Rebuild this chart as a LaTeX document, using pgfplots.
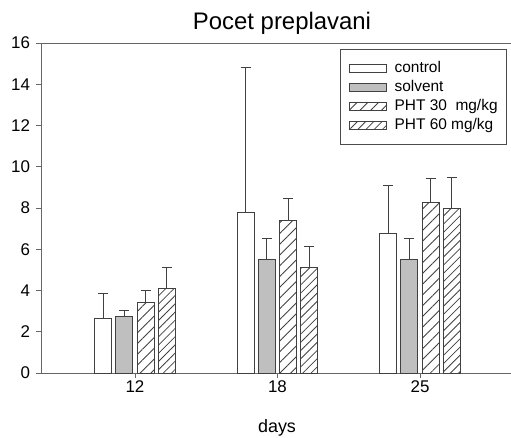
\documentclass[border=0pt]{standalone}
\usepackage{fontspec}
\setmainfont{Liberation Sans}
\usepackage{pgfplots}
\pgfplotsset{compat=1.18}
\usetikzlibrary{patterns.meta}

\definecolor{barline}{gray}{0.25}
\definecolor{solventfill}{gray}{0.75}

\pgfplotsset{
  errbar/.style={
    error bars/.cd, y dir=plus, y explicit,
    error bar style={barline, line width=1bp},
    error mark options={barline, rotate=90, mark size=5bp, line width=1bp},
  },
}

\begin{document}
\begin{tikzpicture}
\begin{axis}[
  scale only axis,
  width=472bp, height=330bp,
  xmin=-0.6596, xmax=2.6526,
  ymin=0, ymax=16,
  xtick={0,1,2},
  xticklabels={12,18,25},
  ytick={0,2,4,6,8,10,12,14,16},
  tick align=outside,
  xtick pos=bottom, ytick pos=left,
  major tick length=4.5bp,
  tick style={black!60, line width=0.8bp},
  axis line style={black!60, line width=0.9bp},
  /pgf/number format/assume math mode=true,
  tick label style={font=\fontsize{17}{20}\selectfont},
  yticklabel style={xshift=-3bp},
  ybar=4.3bp,
  bar width=17bp,
  xlabel={days},
  xlabel style={font=\fontsize{18}{21}\selectfont, at={(axis description cs:0.5,0)}, anchor=base, yshift=-59bp, inner sep=0pt},
  legend cell align=left,
  legend image code/.code={\draw[#1] (0bp,-4bp) rectangle (36.5bp,4bp);},
  legend style={
    at={(1,1)}, anchor=north east, xshift=-6bp, yshift=-6bp,
    draw=black!70, line width=0.8bp,
    font=\fontsize{15.5}{18}\selectfont,
    inner xsep=9bp, inner ysep=9bp,
    column sep=8bp, row sep=0bp,
    nodes={inner sep=0bp, minimum height=19.3bp, text height=11bp, text depth=3bp},
  },
]
% control
\addplot[draw=barline, fill=white, line width=1bp, errbar] coordinates {
  (0, 2.65) +- (0, 1.21)
  (1, 7.79) +- (0, 7.01)
  (2, 6.77) +- (0, 2.30)
};
% solvent
\addplot[draw=barline, fill=solventfill, line width=1bp, errbar] coordinates {
  (0, 2.72) +- (0, 0.30)
  (1, 5.49) +- (0, 1.01)
  (2, 5.49) +- (0, 1.01)
};
% PHT 30 mg/kg
\addplot[draw=barline, line width=1bp,
  pattern={Lines[angle=45, distance=7.6bp, line width=0.8bp]}, pattern color=barline,
  errbar] coordinates {
  (0, 3.41) +- (0, 0.58)
  (1, 7.40) +- (0, 1.08)
  (2, 8.29) +- (0, 1.13)
};
% PHT 60 mg/kg
\addplot[draw=barline, line width=1bp,
  pattern={Lines[angle=45, distance=5.8bp, line width=0.8bp]}, pattern color=barline,
  errbar] coordinates {
  (0, 4.11) +- (0, 0.99)
  (1, 5.10) +- (0, 1.02)
  (2, 7.98) +- (0, 1.52)
};
\legend{control, solvent, PHT 30~~mg/kg, PHT 60 mg/kg}
\end{axis}
\node[font=\fontsize{24}{28}\selectfont, anchor=base, inner sep=0pt]
  at ([xshift=5bp, yshift=13.7bp]current axis.north) {Pocet preplavani};
\pgfresetboundingbox
\path ([shift={(-41bp,-65bp)}]current axis.south west) rectangle ([shift={(470bp,373bp)}]current axis.south west);
\end{tikzpicture}
\end{document}
